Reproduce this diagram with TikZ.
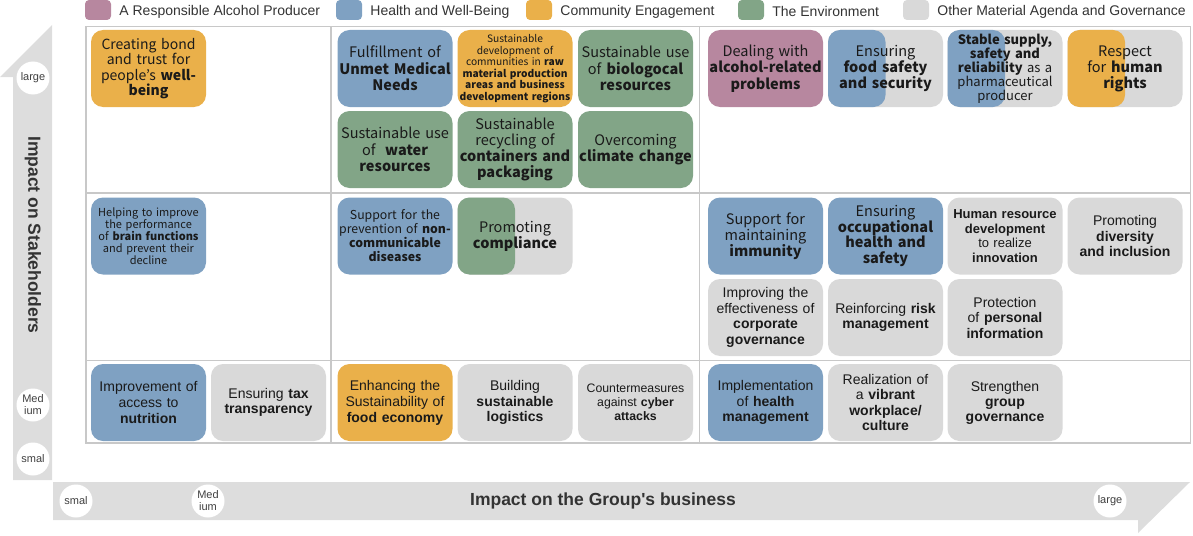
\documentclass[tikz,border=0pt]{standalone}
\usepackage{fontspec}
\setmainfont{Liberation Sans}
\newfontfamily\jpfont{Noto Sans CJK JP}
\usepackage{xcolor}
\usetikzlibrary{positioning}

\definecolor{alcohol}{HTML}{B7879F}
\definecolor{health}{HTML}{7FA1C2}
\definecolor{community}{HTML}{EAB04A}
\definecolor{environ}{HTML}{82A587}
\definecolor{others}{HTML}{D9D9D9}
\definecolor{gridline}{HTML}{C8C8C8}
\definecolor{axisband}{HTML}{DDDDDD}
\definecolor{ink}{HTML}{1A1A1A}

% font helpers: size / baselineskip in px (=pt here)
\newcommand\jpsz[2]{\jpfont\fontsize{#1}{#2}\selectfont}
\newcommand\arsz[2]{\rmfamily\fontsize{#1}{#2}\selectfont}

\begin{document}
\begin{tikzpicture}[x=1pt,y=-1pt,
   issue/.style={rounded corners=12pt,fill=#1,minimum width=115pt,minimum height=77pt,
     text width=115pt,inner sep=0pt,align=center,text=ink},
   halfbox/.style={issue=others,path picture={\fill[#1]
     (path picture bounding box.north west) rectangle (path picture bounding box.south);}},
   legsq/.style={rounded corners=4pt,fill=#1,minimum width=26pt,minimum height=20pt,inner sep=0pt},
   legtxt/.style={right=8pt of #1,yshift=-1.5pt,inner sep=0pt,text=black!80,font=\arsz{14}{16}},
   scalemark/.style={circle,fill=white,minimum size=33pt,inner sep=0pt,align=center,
     text=black!75,font=\arsz{11}{12}}]
  \useasboundingbox (0,0) rectangle (1193,535);

  % legend
  \node[legsq=alcohol] (legAlc) at (98,10) {};
  \node[legtxt=legAlc] {A Responsible Alcohol Producer};
  \node[legsq=health] (legHlt) at (349,10) {};
  \node[legtxt=legHlt] {Health and Well-Being};
  \node[legsq=community] (legCom) at (539,10) {};
  \node[legtxt=legCom] {Community Engagement};
  \node[legsq=environ] (legEnv) at (751,10) {};
  \node[legtxt=legEnv] {The Environment};
  \node[legsq=others] (legOth) at (916,10) {};
  \node[legtxt=legOth] {Other Material Agenda and Governance};

  % axis bands
  \fill[axisband] (52,25) -- (52,480) -- (13,480) -- (13,77) -- (0,77) -- cycle;
  \fill[axisband] (53,482) -- (1190,482) -- (1138,533) -- (1138,520) -- (53,520) -- cycle;
  \node[rotate=-90,text=black!80,font=\bfseries\arsz{17.5}{20}] (vlabel) at (33,235)
    {Impact on Stakeholders};
  \node[text=black!80,font=\bfseries\arsz{17.5}{20}] (hlabel) at (603,501)
    {Impact on the Group\textquotesingle s business};
  \node[scalemark] (vLarge) at (33,78) {large};
  \node[scalemark] (vMed) at (33,405) {Med\\ium};
  \node[scalemark] (vSmall) at (33,459) {smal};
  \node[scalemark] (hSmall) at (76,501) {smal};
  \node[scalemark] (hMed) at (208,501) {Med\\ium};
  \node[scalemark] (hLarge) at (1110,501) {large};

  % matrix grid
  \draw[gridline,line width=1.5pt] (86,26.5) rectangle (1190.5,443);
  \draw[gridline,line width=1.5pt] (331,26.5) -- (331,443) (699.5,26.5) -- (699.5,443)
    (86,193) -- (1190.5,193) (86,360.5) -- (1190.5,360.5);

  % large impact on stakeholders
  \node[issue=community,font=\jpsz{14}{15.3}] (bond) at (148.5,68.5)
    {Creating bond\\and trust for\\people’s \textbf{well-}\\\textbf{being}};
  \node[issue=health,font=\jpsz{14.5}{16.5}] (unmet) at (395,68.5)
    {Fulfillment of\\\textbf{Unmet Medical}\\\textbf{Needs}};
  \node[issue=community,font=\jpsz{10.2}{11.5}] (rawmat) at (515,68.5)
    {Sustainable\\development of\\communities in \textbf{raw}\\\textbf{material production}\\
     \textbf{areas and business}\\\textbf{development regions}};
  \node[issue=environ,font=\jpsz{14.5}{16.5}] (bio) at (635.5,68.5)
    {Sustainable use\\of \textbf{biologocal}\\\textbf{resources}};
  \node[issue=environ,font=\jpsz{14.5}{16.5}] (water) at (395,149.5)
    {Sustainable use\\of~ \textbf{water}\\\textbf{resources}};
  \node[issue=environ,font=\jpsz{14.5}{16}] (recyc) at (515,149.5)
    {Sustainable\\recycling of\\\textbf{containers and}\\\textbf{packaging}};
  \node[issue=environ,font=\jpsz{14.5}{16}] (climate) at (635.5,149.5)
    {Overcoming\\\textbf{climate change}};
  \node[issue=alcohol,font=\jpsz{14.5}{16.5}] (alcoholrel) at (765.5,68.5)
    {Dealing with\\\textbf{alcohol-related}\\\textbf{problems}};
  \node[halfbox=health,font=\jpsz{14.5}{16}] (foodsafe) at (885.5,68.5)
    {Ensuring\\\textbf{food safety}\\\textbf{and security}};
  \node[halfbox=health,font=\jpsz{13}{14}] (supply) at (1005,68.5)
    {\textbf{Stable supply,}\\\textbf{safety and}\\\textbf{reliability} as a\\pharmaceutical\\producer};
  \node[halfbox=community,font=\jpsz{14.5}{16}] (rights) at (1125,68.5)
    {Respect\\for \textbf{human}\\\textbf{rights}};

  % medium impact on stakeholders
  \node[issue=health,font=\jpsz{11}{12}] (brain) at (148.5,236)
    {Helping to improve\\the performance\\of \textbf{brain functions}\\and prevent their\\decline};
  \node[issue=health,font=\jpsz{12.3}{14}] (ncd) at (395,236)
    {Support for the\\prevention of \textbf{non-}\\\textbf{communicable}\\\textbf{diseases}};
  \node[halfbox=environ,font=\jpsz{14.5}{16}] (comply) at (515,236)
    {Promoting\\\textbf{compliance}};
  \node[issue=health,font=\jpsz{14.5}{16}] (immune) at (765.5,236)
    {Support for\\maintaining\\\textbf{immunity}};
  \node[issue=health,font=\jpsz{14.5}{15.8}] (occup) at (885.5,236)
    {Ensuring\\\textbf{occupational}\\\textbf{health and}\\\textbf{safety}};
  \node[issue=others,font=\arsz{13}{14.4}] (hrdev) at (1005,236)
    {\textbf{Human resource}\\\textbf{development}\\to realize\\\textbf{innovation}};
  \node[issue=others,font=\arsz{14}{15.3}] (divers) at (1125,236)
    {Promoting\\\textbf{diversity}\\\textbf{and inclusion}};
  \node[issue=others,font=\arsz{14}{15.5}] (corpgov) at (765.5,317.5)
    {Improving the\\effectiveness of\\\textbf{corporate}\\\textbf{governance}};
  \node[issue=others,font=\arsz{14}{15.5}] (risk) at (885.5,317.5)
    {Reinforcing \textbf{risk}\\\textbf{management}};
  \node[issue=others,font=\arsz{14}{15.5}] (privacy) at (1005,317.5)
    {Protection\\of \textbf{personal}\\\textbf{information}};

  % small impact on stakeholders
  \node[issue=health,font=\arsz{14}{16}] (nutri) at (148.5,402.5)
    {Improvement of\\access to\\\textbf{nutrition}};
  \node[issue=others,font=\arsz{14}{15.5}] (tax) at (268.5,402.5)
    {Ensuring \textbf{tax}\\\textbf{transparency}};
  \node[issue=community,font=\arsz{14}{16}] (foodeco) at (395,402.5)
    {Enhancing the\\Sustainability of\\\textbf{food economy}};
  \node[issue=others,font=\arsz{14}{15.5}] (logist) at (515,402.5)
    {Building\\\textbf{sustainable}\\\textbf{logistics}};
  \node[issue=others,font=\arsz{12.3}{13.8}] (cyber) at (635.5,402.5)
    {Countermeasures\\against \textbf{cyber}\\\textbf{attacks}};
  \node[issue=health,font=\arsz{14}{15.5}] (healthmgmt) at (765.5,402.5)
    {Implementation\\of \textbf{health}\\\textbf{management}};
  \node[issue=others,font=\arsz{14}{15.3}] (vibrant) at (885.5,402.5)
    {Realization of\\a \textbf{vibrant}\\\textbf{workplace/}\\\textbf{culture}};
  \node[issue=others,font=\arsz{14}{15}] (groupgov) at (1005,402.5)
    {Strengthen\\\textbf{group}\\\textbf{governance}};
\end{tikzpicture}
\end{document}
